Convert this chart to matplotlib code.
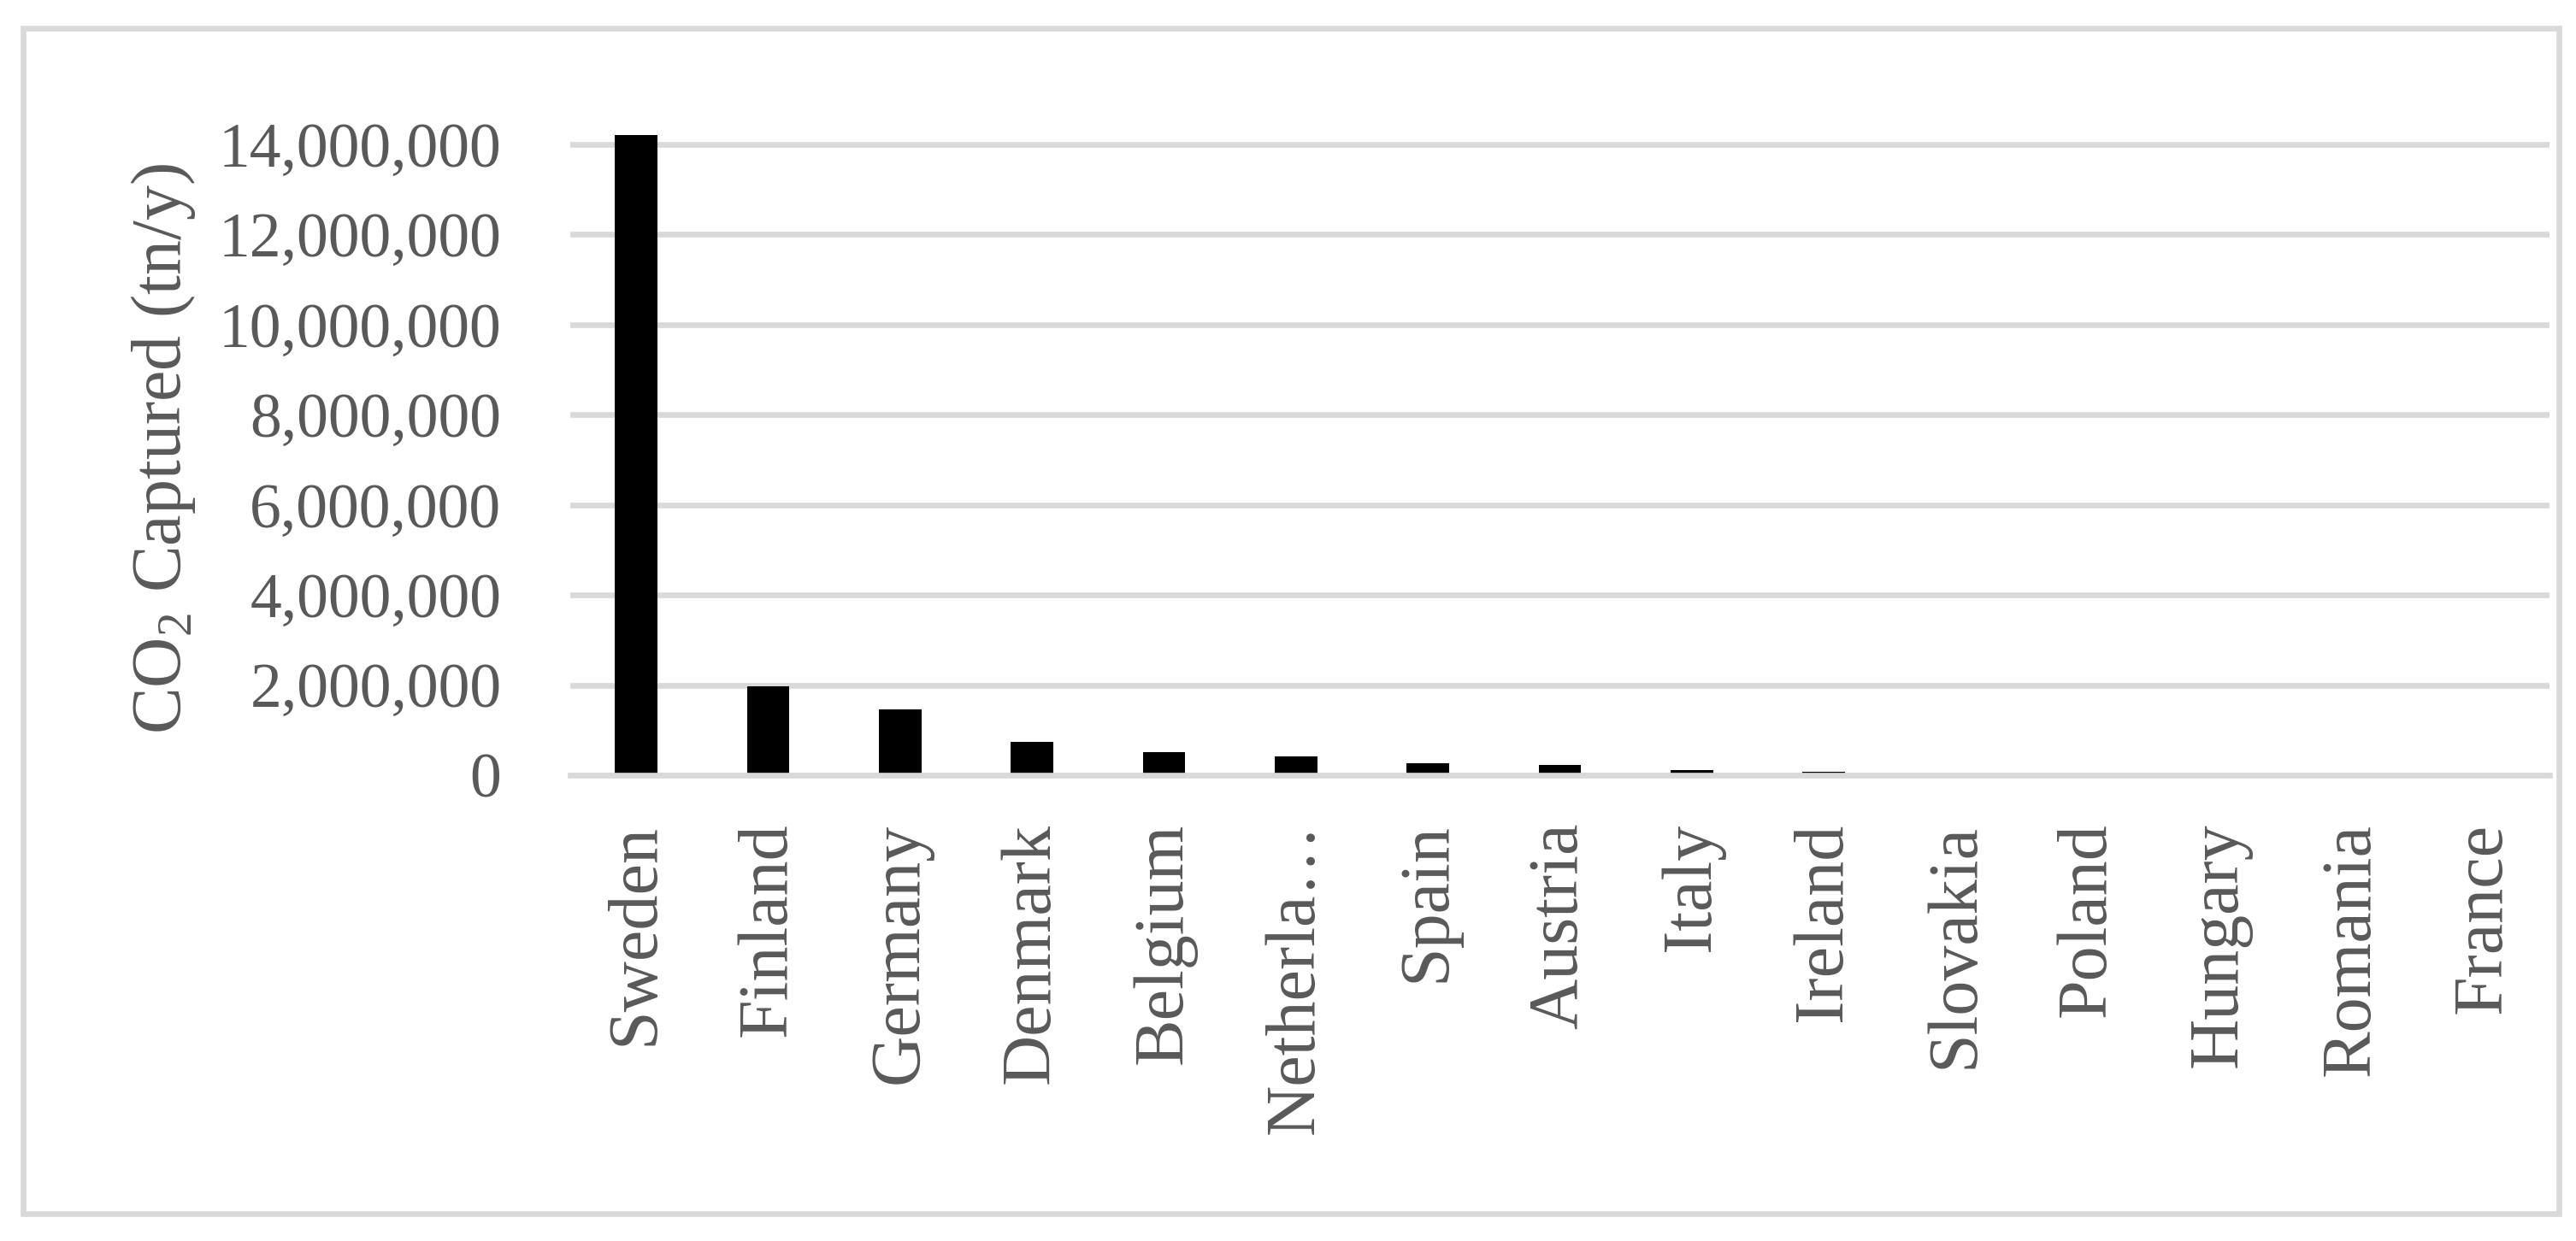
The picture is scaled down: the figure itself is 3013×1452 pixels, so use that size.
import matplotlib.pyplot as plt
import matplotlib.ticker as mticker
from matplotlib.patches import Rectangle

countries = ["Sweden", "Finland", "Germany", "Denmark", "Belgium", "Netherla\u2026",
             "Spain", "Austria", "Italy", "Ireland", "Slovakia", "Poland",
             "Hungary", "Romania", "France"]
co2_captured = [14200000, 1970000, 1460000, 740000, 515000, 425000,
                270000, 235000, 120000, 80000, 25000, 15000, 8000, 5000, 2000]

plt.rcParams['font.family'] = ['Liberation Serif', 'DejaVu Serif']
plt.rcParams['mathtext.fontset'] = 'custom'
plt.rcParams['mathtext.rm'] = 'Liberation Serif'

W, H = 3013, 1452
fig = plt.figure(figsize=(W / 100, H / 100), dpi=100)

# plot area in pixels of the reference
left, right, bottom, y14 = 667, 2982, 907, 169
ymax = 14.5e6
height = (bottom - y14) * ymax / 14e6
ax = fig.add_axes([left / W, 1 - bottom / H, (right - left) / W, height / H])

grid_c = "#d9d9d9"
text_c = "#595959"
lw = 4.8

x = range(len(countries))
ax.bar(x, co2_captured, width=0.32, color="black", zorder=1)
ax.set_xlim(-0.5, len(countries) - 0.5)
ax.set_ylim(0, ymax)
ax.set_yticks(range(0, 14000001, 2000000))
ax.yaxis.set_major_formatter(mticker.FuncFormatter(lambda v, p: f"{v:,.0f}"))
ax.set_xticks(list(x))
ax.set_xticklabels(countries, rotation=90)

ax.set_axisbelow(True)
ax.grid(axis="y", color=grid_c, linewidth=lw)
for s in ["left", "top", "right"]:
    ax.spines[s].set_visible(False)
ax.spines["bottom"].set_color(grid_c)
ax.spines["bottom"].set_linewidth(lw)
ax.spines["bottom"].set_zorder(3)

ax.tick_params(axis="both", length=0, labelcolor=text_c)
ax.tick_params(axis="y", pad=58, labelsize=53)
ax.tick_params(axis="x", pad=40, labelsize=59)

ax.set_ylabel(r"CO$_\mathrm{2}$ Captured (tn/y)", fontsize=59, color=text_c, labelpad=18)

# light grey frame around the whole chart
fig.patches.append(Rectangle((27 / W, 1 - 1420 / H), (2993 - 27) / W, (1420 - 33) / H,
                             transform=fig.transFigure, fill=False,
                             edgecolor=grid_c, linewidth=lw))

fig.savefig("out.png", dpi=100)
